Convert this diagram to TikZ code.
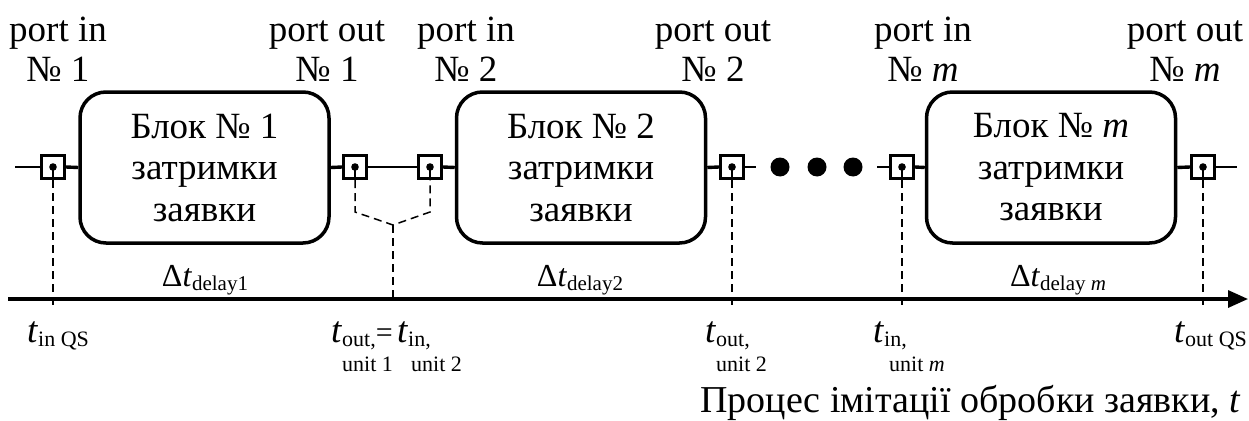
\documentclass[tikz,border=0pt]{standalone}
\usepackage{fontspec}
\setmainfont{Liberation Serif}
\usetikzlibrary{arrows.meta}

% font sizes used in the drawing
\newcommand\xlbl{\fontsize{37}{40}\selectfont}
\newcommand\xcap{\fontsize{38}{40}\selectfont}
\newcommand\xdel{\fontsize{32}{36}\selectfont}
\newcommand\xtim{\fontsize{37}{44}\selectfont}
\newcommand\xsub{\fontsize{22}{25}\selectfont}
\newcommand\xdsub{\fontsize{21}{22}\selectfont}
% time mark: italic t with a one- or two-line subscript
\newcommand\tmark[2]{\textit{t}\raisebox{-4pt}{\xsub\vtop{\hbox{#1}\hbox{\rlap{#2}}}}}

\begin{document}
\begin{tikzpicture}[x=1pt,y=-1pt,
  block/.style={draw, line width=3.5pt, rounded corners=26pt,
    minimum width=249pt, minimum height=151pt, align=center,
    inner sep=0pt, font=\fontsize{37}{41.5}\selectfont},
  port/.style={draw, line width=3pt, minimum size=23pt, inner sep=0pt},
  bigdot/.style={circle, fill, minimum size=19pt, inner sep=0pt},
  thinline/.style={line width=2pt},
  thickline/.style={line width=3.4pt},
  guide/.style={line width=1.5pt, dash pattern=on 8pt off 5pt},
  plabel/.style={align=center, anchor=south, inner sep=0pt, font=\xlbl},
  dlabel/.style={anchor=base, inner sep=0pt, font=\xdel},
  tlabel/.style={anchor=base west, inner sep=0pt, font=\xtim}
]
\useasboundingbox (0,0) rectangle (1249,420);

% blocks
\node[block] (b1) at (204.5,167.5) {Блок № 1\\затримки\\заявки};
\node[block] (b2) at (581,167.5) {Блок № 2\\затримки\\заявки};
\node[block] (bm) at (1051,167.5) {Блок № \textit{m}\\затримки\\заявки};

% ports
\node[port] (pin1) at (53,167) {};
\node[port] (pout1) at (355,167) {};
\node[port] (pin2) at (430,167) {};
\node[port] (pout2) at (732,167) {};
\node[port] (pinm) at (902,167) {};
\node[port] (poutm) at (1203,167) {};
\foreach \p in {pin1,pout1,pin2,pout2,pinm,poutm}{
  \fill (\p.center) circle (3.8pt);
  \draw[line width=1.8pt] (\p.center) -- (\p.south);
}

% ellipsis between block 2 and block m
\node[bigdot] (d1) at (780,167) {};
\node[bigdot] (d2) at (817,167) {};
\node[bigdot] (d3) at (853,167) {};

% signal line
\coordinate (lstart) at (15,167);
\coordinate (gapL) at (756,167);
\coordinate (gapR) at (877,167);
\coordinate (lend) at (1237,167);
\draw[thinline] (lstart) -- (pin1.west);
\draw[thickline] (pin1.east) -- (b1.west);
\draw[thickline] (b1.east) -- (pout1.west);
\draw[thinline] (pout1.east) -- (pin2.west);
\draw[thickline] (pin2.east) -- (b2.west);
\draw[thickline] (b2.east) -- (pout2.west);
\draw[thinline] (pout2.east) -- (gapL);
\draw[thinline] (gapR) -- (pinm.west);
\draw[thickline] (pinm.east) -- (bm.west);
\draw[thickline] (bm.east) -- (poutm.west);
\draw[thinline] (poutm.east) -- (lend);

% time axis
\coordinate (ax0) at (8,299);
\coordinate (ax1) at (1248,299);
\draw[line width=3.2pt, -{Triangle[length=20pt,width=17pt]}] (ax0) -- (ax1);

% projections of the ports onto the time axis
\coordinate (g1) at (53,307);
\coordinate (g2) at (732,307);
\coordinate (g3) at (902,307);
\coordinate (g4) at (1203,307);
\coordinate (m1) at (355,212);
\coordinate (m2) at (430,212);
\coordinate (mj) at (393,225);
\coordinate (mb) at (393,299);
\draw[guide] (pin1.south) -- (g1);
\draw[guide] (pout2.south) -- (g2);
\draw[guide] (pinm.south) -- (g3);
\draw[guide] (poutm.south) -- (g4);
\draw[guide] (pout1.south) -- (m1) -- (mj) -- (m2) -- (pin2.south);
\draw[guide] (mj) -- (mb);

% port labels
\node[plabel] (lpin1) at (58,82) {port in\\№ 1};
\node[plabel] (lpout1) at (327,82) {port out\\№ 1};
\node[plabel] (lpin2) at (466,82) {port in\\№ 2};
\node[plabel] (lpout2) at (713,82) {port out\\№ 2};
\node[plabel] (lpinm) at (923,82) {port in\\№ \textit{m}};
\node[plabel] (lpoutm) at (1185,82) {port out\\№ \textit{m}};

% delay intervals
\node[dlabel] (del1) at (205,286) {Δ\textit{t}\raisebox{-4pt}{\xdsub delay1}};
\node[dlabel] (del2) at (580,286) {Δ\textit{t}\raisebox{-4pt}{\xdsub delay2}};
\node[dlabel] (delm) at (1058,286) {Δ\textit{t}\raisebox{-4pt}{\xdsub delay \textit{m}}};

% time marks
\node[tlabel] (tinqs) at (27,342) {\tmark{in QS}{}};
\node[tlabel] (tout1) at (331,342) {\tmark{out,}{unit 1}{\fontsize{30}{30}\selectfont =}};
\node[tlabel] (tin2) at (397,342) {\tmark{in,}{\kern3pt unit 2}};
\node[tlabel] (tout2) at (705,342) {\tmark{out,}{unit 2}};
\node[tlabel] (tinm) at (873,342) {\tmark{in,}{\kern5pt unit \textit{m}}};
\node[tlabel] (toutqs) at (1174,342) {\tmark{out QS}{}};

% axis caption
\node[anchor=base east, inner sep=0pt, font=\xcap] (cap) at (1241,412)
  {Процес імітації обробки заявки, \textit{t}};
\end{tikzpicture}
\end{document}
